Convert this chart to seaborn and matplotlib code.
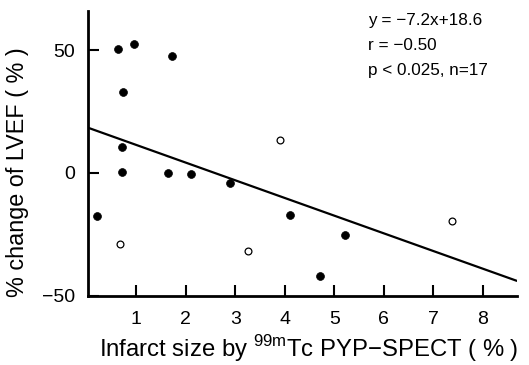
import matplotlib
matplotlib.use("Agg")
import matplotlib.pyplot as plt
import seaborn as sns
import numpy as np
import pandas as pd

# Data
filled_x = [0.63, 0.95, 1.72, 0.73, 0.71, 0.71, 1.64, 2.11, 2.90, 0.20, 4.11, 5.21, 4.72]
filled_y = [50.4, 52.4, 47.6, 32.8, 10.4, 0.3, -0.1, -0.3, -4.3, -17.5, -17.0, -25.4, -41.8]
open_x = [3.90, 0.67, 3.25, 7.37]
open_y = [13.3, -29.0, -31.8, -19.6]
fit_slope = -7.2
fit_intercept = 18.6
fit_x = [0.0, 8.69]
x_ticks = [1, 2, 3, 4, 5, 6, 7, 8]
y_ticks = [-50, 0, 50]
stats_lines = ["y = \u22127.2x+18.6", "r = \u22120.50", "p < 0.025, n=17"]

sns.set_style("ticks")
plt.rcParams['font.family'] = ['Liberation Sans', 'DejaVu Sans']
for key in ["text.color", "axes.labelcolor", "xtick.color", "ytick.color", "axes.edgecolor"]:
    plt.rcParams[key] = "black"

df = pd.DataFrame({
    "x": filled_x + open_x,
    "y": filled_y + open_y,
    "group": ["filled"] * len(filled_x) + ["open"] * len(open_x),
})
fit_df = pd.DataFrame({"x": fit_x, "y": [fit_slope * v + fit_intercept for v in fit_x]})

fig = plt.figure(figsize=(5.29, 3.65), dpi=100)
ax = fig.add_axes([0.166, 0.19, 0.811, 0.78])

sns.scatterplot(data=df[df.group == "filled"], x="x", y="y", ax=ax,
                color="black", s=32, edgecolor="black", linewidth=0.5, zorder=3)
sns.scatterplot(data=df[df.group == "open"], x="x", y="y", ax=ax,
                facecolor="white", s=24, edgecolor="black", linewidth=0.9, zorder=3)
sns.lineplot(data=fit_df, x="x", y="y", ax=ax, color="black", linewidth=1.6, zorder=2)

ax.set_xlim(0.02, 8.69)
ax.set_ylim(-50, 66)
ax.set_xticks(x_ticks)
ax.set_yticks(y_ticks)
ax.set_yticklabels(["\u221250", "0", "50"])
ax.tick_params(direction="in", length=8, width=1.5, labelsize=14)
ax.tick_params(axis="x", pad=11)
ax.tick_params(axis="y", pad=9)
for side in ["top", "right"]:
    ax.spines[side].set_visible(False)
for side in ["left", "bottom"]:
    ax.spines[side].set_linewidth(2.0)

ax.set_xlabel("Infarct size by $^{\\mathregular{99m}}$Tc PYP\u2212SPECT ( % )", fontsize=17.2)
ax.xaxis.label.set_va("baseline")
ax.xaxis.set_label_coords(0.515, -0.215)
ax.set_ylabel("% change of LVEF ( % )", fontsize=16.8)
ax.yaxis.label.set_va("center")
ax.yaxis.set_label_coords(-0.163, 0.435)

for i, line in enumerate(stats_lines):
    fig.text(0.695, 1 - (20 + i * 25) / 365, line, fontsize=12.3, va="center", ha="left")

fig.savefig("out.png", dpi=100)
